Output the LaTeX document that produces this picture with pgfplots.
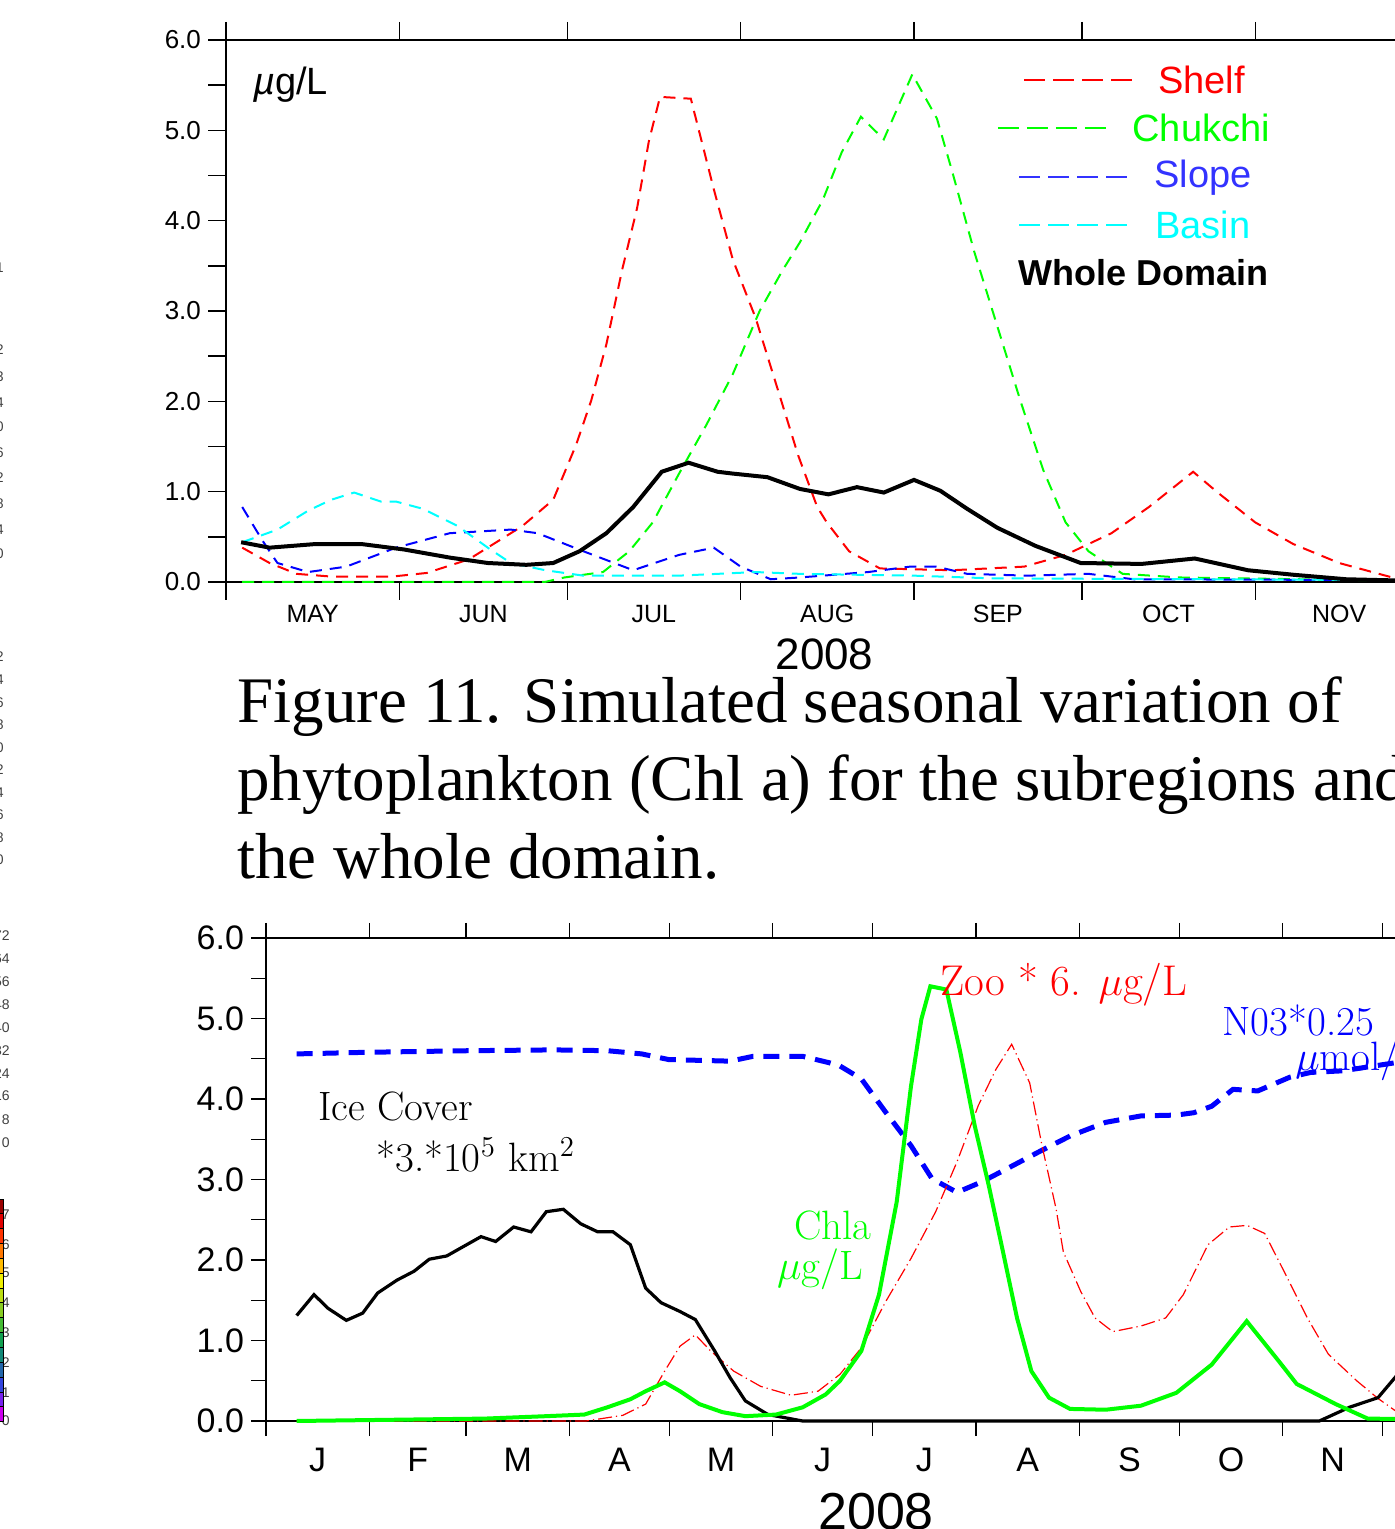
\documentclass[border=0pt]{standalone}
\usepackage{pgfplots}
\pgfplotsset{compat=1.18}
\usepackage{fontspec}
\newfontfamily\grads{Liberation Sans}
\newfontfamily\timesf{Liberation Serif}
\definecolor{cbA}{HTML}{990000}\definecolor{cbB}{HTML}{E00000}\definecolor{cbC}{HTML}{FF3300}
\definecolor{cbD}{HTML}{FF7700}\definecolor{cbE}{HTML}{FFBB00}\definecolor{cbF}{HTML}{EEEE00}
\definecolor{cbG}{HTML}{BBDD11}\definecolor{cbH}{HTML}{88CC22}\definecolor{cbI}{HTML}{44BB33}
\definecolor{cbJ}{HTML}{11A050}\definecolor{cbK}{HTML}{118877}\definecolor{cbL}{HTML}{2266AA}
\definecolor{cbM}{HTML}{3344DD}\definecolor{cbN}{HTML}{7722EE}\definecolor{cbO}{HTML}{CC00EE}
\definecolor{pureG}{HTML}{00FF00}
\definecolor{pureR}{HTML}{FF0000}
\definecolor{pureB}{HTML}{0000FF}
\definecolor{pureC}{HTML}{00FFFF}
\definecolor{slopeB}{HTML}{3333FF}
\begin{document}
\begin{tikzpicture}
\path[use as bounding box] (0,0) rectangle (697.5pt,764.5pt);
\clip (0,0) rectangle (697.5pt,764.5pt);
% ---------------- stray labels at left edge ----------------
\foreach \d/\y in {1/268,2/350,3/377,4/403,0/427,6/453,2/478,8/504,4/530,0/554,
                   2/657,4/680,6/703,8/725,0/748,2/770,4/793,6/815,8/838,0/860}{
  \node[anchor=east,inner sep=0,text=black!75,font=\grads\fontsize{7}{7}\selectfont] at (2pt,{(1529-\y)*0.5pt}) {\d};
}
\foreach \d/\y in {72/936,64/959,56/982,48/1005,40/1028,32/1051,24/1074,16/1096,8/1120,0/1143,
                   7/1215,6/1245,5/1273,4/1303,3/1333,2/1363,1/1393,0/1421}{
  \node[anchor=east,inner sep=0,text=black!75,font=\grads\fontsize{7}{7}\selectfont] at (5pt,{(1529-\y)*0.5pt}) {\d};
}
\foreach \c [count=\i from 0] in {cbA,cbB,cbC,cbD,cbE,cbF,cbG,cbH,cbI,cbJ,cbK,cbL,cbM,cbN,cbO}{
  \filldraw[fill=\c,draw=black,line width=0.25pt] (-1pt,{(1529-1198.8-\i*14.85)*0.5pt}) rectangle (1.7pt,{(1529-1198.8-(\i+1)*14.85)*0.5pt});
}
% ---------------- top chart ----------------
\begin{axis}[
  at={(113pt,473.5pt)}, anchor=south west, scale only axis,
  width=598.5pt, height=271pt,
  xmin=0, xmax=214, ymin=0, ymax=6,
  axis line style={line width=0.8pt},
  tick align=outside,
  major tick length=9pt, minor tick length=9pt,
  tick style={line width=0.7pt, black},
  xtick={0,31,61,92,123,153,184,214}, xticklabels={},
  xtick pos=both,
  extra x ticks={15.5,46,76.5,107.5,138,168.5,199},
  extra x tick labels={MAY,JUN,JUL,AUG,SEP,OCT,NOV},
  extra x tick style={major tick length=0pt, xticklabel style={yshift=-8pt, font=\grads\fontsize{12.5}{12.5}\selectfont}},
  ytick={0,1,...,6}, yticklabels={0.0,1.0,2.0,3.0,4.0,5.0,6.0},
  minor ytick={0.5,1.5,...,5.5},
  ytick pos=left,
  ticklabel style={font=\grads\fontsize{13}{13}\selectfont},
  clip=false,
]
% Shelf
\addplot[pureR, line width=1pt, dash pattern=on 6pt off 4pt] coordinates {
(2.9,0.38)(7.8,0.21)(12.6,0.09)(18.8,0.06)(29.7,0.06)(35.9,0.10)(43.4,0.25)(53,0.62)
(58.5,0.91)(62.6,1.52)(65.3,2.01)(68,2.63)(70.8,3.45)(73.5,4.14)(75.6,4.88)(77.6,5.37)
(83.1,5.35)(87.2,4.35)(90.6,3.57)(94.7,2.92)(98.8,2.10)(102.3,1.40)(105.7,0.83)(107.4,0.66)
(111.4,0.34)(116.9,0.15)(129.8,0.13)(142.7,0.17)(150.1,0.30)(158.3,0.54)(165,0.83)
(172.9,1.22)(177.3,0.99)(184,0.66)(190.8,0.42)(199,0.21)(208.5,0.05)(214,0.0)};
% Chukchi
\addplot[pureG, line width=1pt, dash pattern=on 6pt off 4pt] coordinates {
(2.9,0)(57,0)(60.5,0.05)(67.4,0.11)(72.1,0.34)(76.3,0.66)(81,1.20)(85.8,1.73)(90.6,2.30)
(95.4,3.00)(99.5,3.45)(102.6,3.76)(106.7,4.23)(110.1,4.76)(113.5,5.15)(117.6,4.90)
(122.7,5.62)(127.1,5.13)(129.8,4.55)(133.8,3.65)(137.9,2.83)(142,2.01)(146.1,1.24)
(150.1,0.66)(154.2,0.34)(160.3,0.09)(170.5,0.05)(214,0.01)};
% Slope
\addplot[pureB, line width=1pt, dash pattern=on 6pt off 4pt] coordinates {
(2.9,0.83)(6.5,0.46)(9.2,0.21)(14.7,0.11)(21.5,0.17)(30.4,0.38)(40,0.54)(50.9,0.58)
(55.7,0.54)(63.9,0.34)(72.8,0.13)(81,0.30)(87.2,0.38)(92,0.17)(97.4,0.03)(102.6,0.05)
(114.8,0.11)(122.3,0.17)(127,0.17)(132.5,0.09)(143.3,0.07)(154.2,0.09)(162.3,0.03)(214,0.02)};
% Basin
\addplot[pureC, line width=1pt, dash pattern=on 6pt off 4pt] coordinates {
(2.9,0.44)(9.2,0.58)(14.7,0.79)(18.8,0.91)(22.9,0.99)(27.7,0.89)(30.4,0.89)(35.2,0.81)
(41.4,0.62)(46.8,0.38)(50.9,0.21)(57.1,0.13)(63.9,0.07)(81,0.07)(94.7,0.11)(102.6,0.09)
(123,0.07)(137,0.04)(214,0.02)};
% Whole domain
\addplot[black, line width=2pt] coordinates {
(2.7,0.44)(7.8,0.38)(16,0.42)(24.2,0.42)(31.8,0.36)(40,0.27)(46.8,0.21)(53.7,0.19)
(58.5,0.21)(63.2,0.34)(68,0.54)(72.8,0.83)(77.9,1.22)(82.7,1.32)(87.9,1.22)(90.6,1.20)
(96.8,1.16)(102.6,1.03)(107.7,0.97)(112.8,1.05)(117.6,0.99)(123,1.13)(127.7,1.01)
(132.5,0.81)(137.9,0.60)(144.7,0.40)(152.8,0.21)(163.7,0.20)(173.2,0.26)(182.7,0.13)
(190.8,0.08)(200.3,0.03)(214,0.01)};
% annotations
\node[anchor=west,inner sep=0,font=\grads\fontsize{19}{19}\selectfont] at (axis cs:4.8,5.5) {\itshape µ\upshape g/L};
\draw[pureR, line width=1pt, dash pattern=on 10.5pt off 4pt] (axis cs:142.7,5.56) -- (axis cs:162.4,5.56);
\node[anchor=west,inner sep=0,text=pureR,font=\grads\fontsize{19}{19}\selectfont] at (axis cs:166.6,5.56) {Shelf};
\draw[pureG, line width=1pt, dash pattern=on 10.5pt off 4pt] (axis cs:138,5.03) -- (axis cs:157.9,5.03);
\node[anchor=west,inner sep=0,text=pureG,font=\grads\fontsize{19}{19}\selectfont] at (axis cs:162,5.03) {Chukchi};
\draw[slopeB, line width=1pt, dash pattern=on 10.5pt off 4pt] (axis cs:141.8,4.48) -- (axis cs:161.8,4.48);
\node[anchor=west,inner sep=0,text=slopeB,font=\grads\fontsize{19}{19}\selectfont] at (axis cs:165.9,4.48) {Slope};
\draw[pureC, line width=1pt, dash pattern=on 10.5pt off 4pt] (axis cs:141.8,3.95) -- (axis cs:161.8,3.95);
\node[anchor=west,inner sep=0,text=pureC,font=\grads\fontsize{19}{19}\selectfont] at (axis cs:166.1,3.95) {Basin};
\node[anchor=west,inner sep=0,font=\grads\bfseries\fontsize{18}{18}\selectfont] at (axis cs:141.6,3.43) {Whole Domain};
\node[inner sep=0,font=\grads\fontsize{22}{22}\selectfont] at (rel axis cs:0.5,0) [yshift=-36pt] {2008};
\end{axis}
% ---------------- caption ----------------
\node[anchor=base west, align=left, inner sep=0, font=\timesf\fontsize{32.5}{39}\selectfont] at (118.5pt,325pt)
  {Figure 11. Simulated seasonal variation of\\ phytoplankton (Chl a) for the subregions and\\ the whole domain.};
% ---------------- bottom chart ----------------
\begin{axis}[
  at={(133pt,54pt)}, anchor=south west, scale only axis,
  width=610pt, height=241.5pt,
  xmin=0, xmax=366, ymin=0, ymax=6,
  axis line style={line width=0.8pt},
  tick align=outside,
  major tick length=7.5pt, minor tick length=7.5pt,
  tick style={line width=0.7pt, black},
  xtick={0,31,60,91,121,152,182,213,244,274,305,335,366}, xticklabels={},
  xtick pos=both,
  extra x ticks={15.5,45.5,75.5,106,136.5,167,197.5,228.5,259,289.5,320,350.5},
  extra x tick labels={J,F,M,A,M,J,J,A,S,O,N,D},
  extra x tick style={major tick length=0pt, xticklabel style={yshift=-10pt}},
  ytick={0,1,...,6}, yticklabels={0.0,1.0,2.0,3.0,4.0,5.0,6.0},
  minor ytick={0.5,1.5,...,5.5},
  ytick pos=left,
  ticklabel style={font=\grads\fontsize{17}{17}\selectfont},
  clip=false,
]
% NO3
\addplot[pureB, line width=2.5pt, dash pattern=on 8pt off 5pt] coordinates {
(9.2,4.56)(30.1,4.58)(61.1,4.60)(86.3,4.61)(102.4,4.60)(112.7,4.56)(120.8,4.49)(139.2,4.47)
(146.1,4.53)(161,4.53)(169,4.45)(172.2,4.41)(178.6,4.25)(186,3.83)(193.5,3.42)(199.8,3.01)
(207.3,2.84)(214.7,2.97)(222.1,3.13)(231.7,3.34)(241.2,3.54)(251.9,3.71)(262.5,3.79)
(273.1,3.80)(278.4,3.83)(283.7,3.91)(290.1,4.12)(297.5,4.10)(307.1,4.27)(313.4,4.33)
(323,4.35)(338.7,4.45)(350,4.5)};
% Zoo
\addplot[pureR, line width=0.6pt, dash pattern=on 7pt off 2pt on 0.6pt off 2pt] coordinates {
(9.2,0)(96,0)(107,0.07)(113.9,0.21)(119.6,0.62)(124.2,0.93)(128.8,1.07)(133.4,0.87)
(140.3,0.62)(148.4,0.43)(157.5,0.32)(165.6,0.37)(172.2,0.58)(178.6,0.91)(186,1.49)
(193.5,2.02)(200.9,2.60)(207.3,3.22)(213.7,3.92)(219,4.37)(223.7,4.68)(229.1,4.20)
(232.8,3.42)(237,2.64)(239.2,2.10)(244.4,1.61)(248.7,1.28)(254,1.11)(262.5,1.18)
(269.9,1.28)(275.2,1.57)(282.6,2.19)(289,2.41)(294.3,2.43)(299.6,2.33)(304.9,1.90)
(312.4,1.28)(318.7,0.83)(327.2,0.50)(333.6,0.28)(338.7,0.13)(345,0.05)};
% Ice
\addplot[black, line width=1.6pt] coordinates {
(9.2,1.31)(14.4,1.57)(18.6,1.40)(24.1,1.25)(29,1.34)(33.5,1.59)(39.3,1.75)(44.4,1.86)
(49,2.01)(54.2,2.05)(64.5,2.29)(68.9,2.23)(74.3,2.41)(79.5,2.35)(84.1,2.60)(89.2,2.63)
(94.4,2.45)(99.5,2.35)(104.1,2.35)(109.3,2.19)(113.9,1.65)(118.5,1.47)(124.2,1.36)
(128.8,1.26)(134.6,0.87)(139.2,0.54)(143.8,0.25)(150.6,0.08)(161,0)(316,0)(325,0.17)
(333.6,0.29)(338.7,0.54)(345,0.85)};
% Chla
\addplot[pureG, line width=2pt] coordinates {
(9.2,0)(65.7,0.03)(84.1,0.06)(95.5,0.08)(102.4,0.17)(109.3,0.27)(113.9,0.37)(119.6,0.48)
(124.2,0.37)(130,0.21)(136.9,0.11)(143.8,0.06)(153,0.08)(161,0.17)(167.9,0.33)(172.2,0.50)
(178.6,0.87)(183.9,1.57)(189.2,2.72)(193.5,4.16)(196.6,4.99)(199.3,5.40)(204.1,5.36)
(208.3,4.58)(212.6,3.67)(216.8,2.93)(221.1,2.10)(225.3,1.28)(229.6,0.62)(234.9,0.29)
(241.2,0.15)(251.9,0.14)(262.5,0.19)(273.1,0.35)(283.7,0.70)(294.2,1.24)(303.9,0.74)
(309.2,0.46)(320.9,0.21)(330.5,0.03)(366,0.01)};
% annotations
\node[anchor=west,inner sep=0,font=\fontsize{20.5}{20.5}\selectfont] at (axis cs:15.6,3.91) {Ice Cover};
\node[anchor=west,inner sep=0,font=\fontsize{20.5}{20.5}\selectfont] at (axis cs:33,3.30) {*3.*10$^5$ km$^2$};
\node[inner sep=0,text=pureG,font=\fontsize{20.5}{20.5}\selectfont] at (axis cs:170.1,2.43) {Chla};
\node[inner sep=0,text=pureG,font=\fontsize{20.5}{20.5}\selectfont] at (axis cs:166.2,1.88) {$\mu$g/L};
\node[anchor=west,inner sep=0,text=pureR,font=\fontsize{21.5}{21.5}\selectfont] at (axis cs:202.2,5.42) {Zoo * 6. $\mu$g/L};
\node[anchor=west,inner sep=0,text=pureB,font=\fontsize{20.5}{20.5}\selectfont] at (axis cs:286.8,4.98) {N03*0.25};
\node[anchor=west,inner sep=0,text=pureB,font=\fontsize{20.5}{20.5}\selectfont] at (axis cs:308.7,4.48) {$\mu$mol/L};
\node[font=\grads\fontsize{26}{26}\selectfont] at (rel axis cs:0.5,0) [yshift=-45.5pt] {2008};
\end{axis}
\end{tikzpicture}
\end{document}
